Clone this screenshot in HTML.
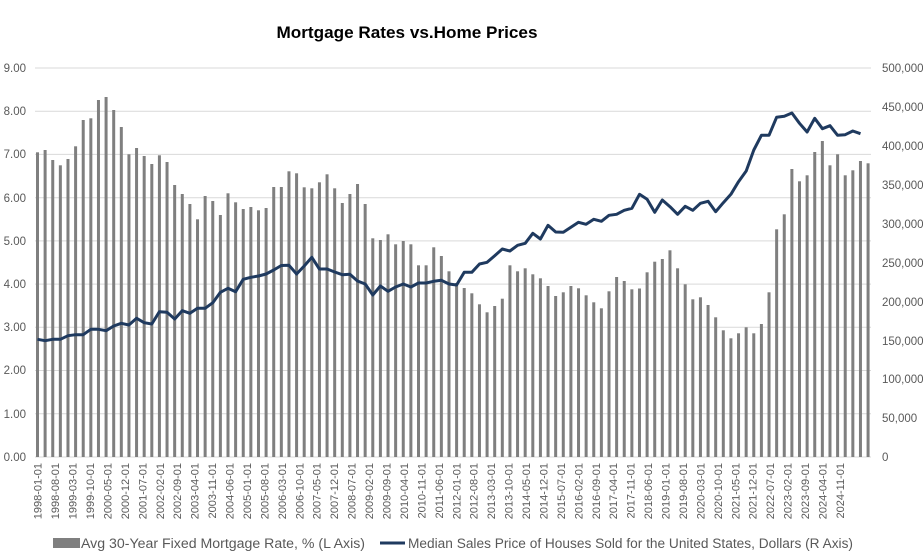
<!DOCTYPE html>
<html><head><meta charset="utf-8"><style>
html,body{margin:0;padding:0;background:#fff;}
svg{display:block;font-family:"Liberation Sans",sans-serif;}
.ax{font-size:11.5px;fill:#595959;}
.xl{font-size:11px;fill:#595959;}
</style></head><body>
<svg id="c" width="923" height="558" viewBox="0 0 923 558" xmlns="http://www.w3.org/2000/svg">
<rect width="923" height="558" fill="#fff"/>
<text x="407" y="38" text-anchor="middle" font-size="16.5" font-weight="bold" fill="#000" textLength="261" lengthAdjust="spacingAndGlyphs">Mortgage Rates vs.Home Prices</text>
<g id="grid" stroke="#d9d9d9" stroke-width="1"></g>
<g class="ax" text-anchor="end">
<text x="26" y="72">9.00</text><text x="26" y="115">8.00</text><text x="26" y="158">7.00</text><text x="26" y="202">6.00</text><text x="26" y="245">5.00</text><text x="26" y="288">4.00</text><text x="26" y="331">3.00</text><text x="26" y="374">2.00</text><text x="26" y="418">1.00</text><text x="26" y="461">0.00</text>
</g>
<g class="ax" text-anchor="start">
<text x="882" y="72">500,000</text><text x="882" y="111">450,000</text><text x="882" y="150">400,000</text><text x="882" y="189">350,000</text><text x="882" y="228">300,000</text><text x="882" y="267">250,000</text><text x="882" y="306">200,000</text><text x="882" y="345">150,000</text><text x="882" y="383">100,000</text><text x="882" y="422">50,000</text><text x="882" y="461">0</text>
</g>
<g id="bars" fill="#7f7f7f"></g>
<polyline id="line" fill="none" stroke="#1f3a5f" stroke-width="3" stroke-linejoin="round"/>
<g class="xl" text-anchor="end">
<text transform="translate(41.7,463) rotate(-90)">1998-01-01</text>
<text transform="translate(59.1,463) rotate(-90)">1998-08-01</text>
<text transform="translate(76.6,463) rotate(-90)">1999-03-01</text>
<text transform="translate(94.0,463) rotate(-90)">1999-10-01</text>
<text transform="translate(111.5,463) rotate(-90)">2000-05-01</text>
<text transform="translate(128.9,463) rotate(-90)">2000-12-01</text>
<text transform="translate(146.3,463) rotate(-90)">2001-07-01</text>
<text transform="translate(163.8,463) rotate(-90)">2002-02-01</text>
<text transform="translate(181.2,463) rotate(-90)">2002-09-01</text>
<text transform="translate(198.7,463) rotate(-90)">2003-04-01</text>
<text transform="translate(216.1,463) rotate(-90)">2003-11-01</text>
<text transform="translate(233.5,463) rotate(-90)">2004-06-01</text>
<text transform="translate(251.0,463) rotate(-90)">2005-01-01</text>
<text transform="translate(268.4,463) rotate(-90)">2005-08-01</text>
<text transform="translate(285.9,463) rotate(-90)">2006-03-01</text>
<text transform="translate(303.3,463) rotate(-90)">2006-10-01</text>
<text transform="translate(320.7,463) rotate(-90)">2007-05-01</text>
<text transform="translate(338.2,463) rotate(-90)">2007-12-01</text>
<text transform="translate(355.6,463) rotate(-90)">2008-07-01</text>
<text transform="translate(373.1,463) rotate(-90)">2009-02-01</text>
<text transform="translate(390.5,463) rotate(-90)">2009-09-01</text>
<text transform="translate(407.9,463) rotate(-90)">2010-04-01</text>
<text transform="translate(425.4,463) rotate(-90)">2010-11-01</text>
<text transform="translate(442.8,463) rotate(-90)">2011-06-01</text>
<text transform="translate(460.3,463) rotate(-90)">2012-01-01</text>
<text transform="translate(477.7,463) rotate(-90)">2012-08-01</text>
<text transform="translate(495.1,463) rotate(-90)">2013-03-01</text>
<text transform="translate(512.6,463) rotate(-90)">2013-10-01</text>
<text transform="translate(530.0,463) rotate(-90)">2014-05-01</text>
<text transform="translate(547.5,463) rotate(-90)">2014-12-01</text>
<text transform="translate(564.9,463) rotate(-90)">2015-07-01</text>
<text transform="translate(582.3,463) rotate(-90)">2016-02-01</text>
<text transform="translate(599.8,463) rotate(-90)">2016-09-01</text>
<text transform="translate(617.2,463) rotate(-90)">2017-04-01</text>
<text transform="translate(634.7,463) rotate(-90)">2017-11-01</text>
<text transform="translate(652.1,463) rotate(-90)">2018-06-01</text>
<text transform="translate(669.5,463) rotate(-90)">2019-01-01</text>
<text transform="translate(687.0,463) rotate(-90)">2019-08-01</text>
<text transform="translate(704.4,463) rotate(-90)">2020-03-01</text>
<text transform="translate(721.9,463) rotate(-90)">2020-10-01</text>
<text transform="translate(739.3,463) rotate(-90)">2021-05-01</text>
<text transform="translate(756.7,463) rotate(-90)">2021-12-01</text>
<text transform="translate(774.2,463) rotate(-90)">2022-07-01</text>
<text transform="translate(791.6,463) rotate(-90)">2023-02-01</text>
<text transform="translate(809.1,463) rotate(-90)">2023-09-01</text>
<text transform="translate(826.5,463) rotate(-90)">2024-04-01</text>
<text transform="translate(843.9,463) rotate(-90)">2024-11-01</text>
</g>
<rect x="53" y="538" width="27" height="10" fill="#7f7f7f"/>
<text x="81" y="548" font-size="13.5" fill="#595959" textLength="284" lengthAdjust="spacingAndGlyphs">Avg 30-Year Fixed Mortgage Rate, % (L Axis)</text>
<line x1="380" y1="543" x2="405" y2="543" stroke="#1f3a5f" stroke-width="3"/>
<text x="408" y="548" font-size="13.5" fill="#595959" textLength="445" lengthAdjust="spacingAndGlyphs">Median Sales Price of Houses Sold for the United States, Dollars (R Axis)</text>
</svg>
<script>
(function(){
var NS="http://www.w3.org/2000/svg";
var g=document.getElementById("grid");
for(var k=0;k<10;k++){var y=68+k*43.22;var l=document.createElementNS(NS,"line");l.setAttribute("x1",35);l.setAttribute("x2",871);l.setAttribute("y1",y.toFixed(1));l.setAttribute("y2",y.toFixed(1));g.appendChild(l);}
var bars=[152.3,150,160,165.3,159,146.3,120,118.3,100,97,110,127,154.3,148,156,164,155.3,162,185,194,204,219.3,196,201,215,193.3,202.3,209,207,210.3,208,187,187,171.3,173.3,187.3,188.3,182.3,174.3,188.3,203,194,184,204,238.3,240,234.3,244.3,241,244.3,265.3,265.3,247.3,256,271.3,283,288,293.3,304.3,312.3,306,298.7,265.3,271.3,268.3,274.3,278.3,286,296,292.3,286,288.3,295.3,302.3,308.3,291.3,277,281,289.3,288.5,272.3,261.7,259,250.3,268.3,284.3,299.3,297.3,305,317.3,330.3,338.3,333.3,327.3,333.3,324,292.3,229.3,214.3,169,181.3,175.3,152,141,165.3,154.3,175.3,170.3,161,163.3];
var line=[339.3,340.7,339.3,339.3,335.7,334.7,334.7,329.3,329.3,330.7,326,323.3,325,318.3,322.7,324,311.7,312.3,319,310.7,313.3,308.3,308.3,302.7,292.3,288.3,291.7,279.3,277.3,276,274,270,265.5,265.3,274,266,257.3,269,269,272,274.7,274.3,281,284,295,286,291.3,287,284,287,283,283,281.3,280.3,284,285,272.3,272.3,264,262.3,255.7,249,251,245.3,243.3,233.3,239,225.3,232,232.3,227.3,222.3,224.3,219.3,221.3,215.3,214.3,210.3,208.3,194.3,199.3,212.3,200,206.7,214.3,206.3,210.3,203.3,201.3,211.7,202.7,194.3,181.7,171,150,135.3,135.3,117.3,116.3,113,123.3,132,118.3,128.7,125.7,135.3,134.7,131,133.7];
var bg=document.getElementById("bars");
for(var i=0;i<bars.length;i++){var x=37.5+7.62*i;var r=document.createElementNS(NS,"rect");r.setAttribute("x",(x-1.5).toFixed(2));r.setAttribute("y",bars[i]);r.setAttribute("width",3);r.setAttribute("height",(457-bars[i]).toFixed(1));bg.appendChild(r);}
var pts=[];for(var j=0;j<line.length;j++){pts.push((37.5+7.62*j).toFixed(1)+","+line[j]);}
document.getElementById("line").setAttribute("points",pts.join(" "));
})();
</script>
</body></html>
